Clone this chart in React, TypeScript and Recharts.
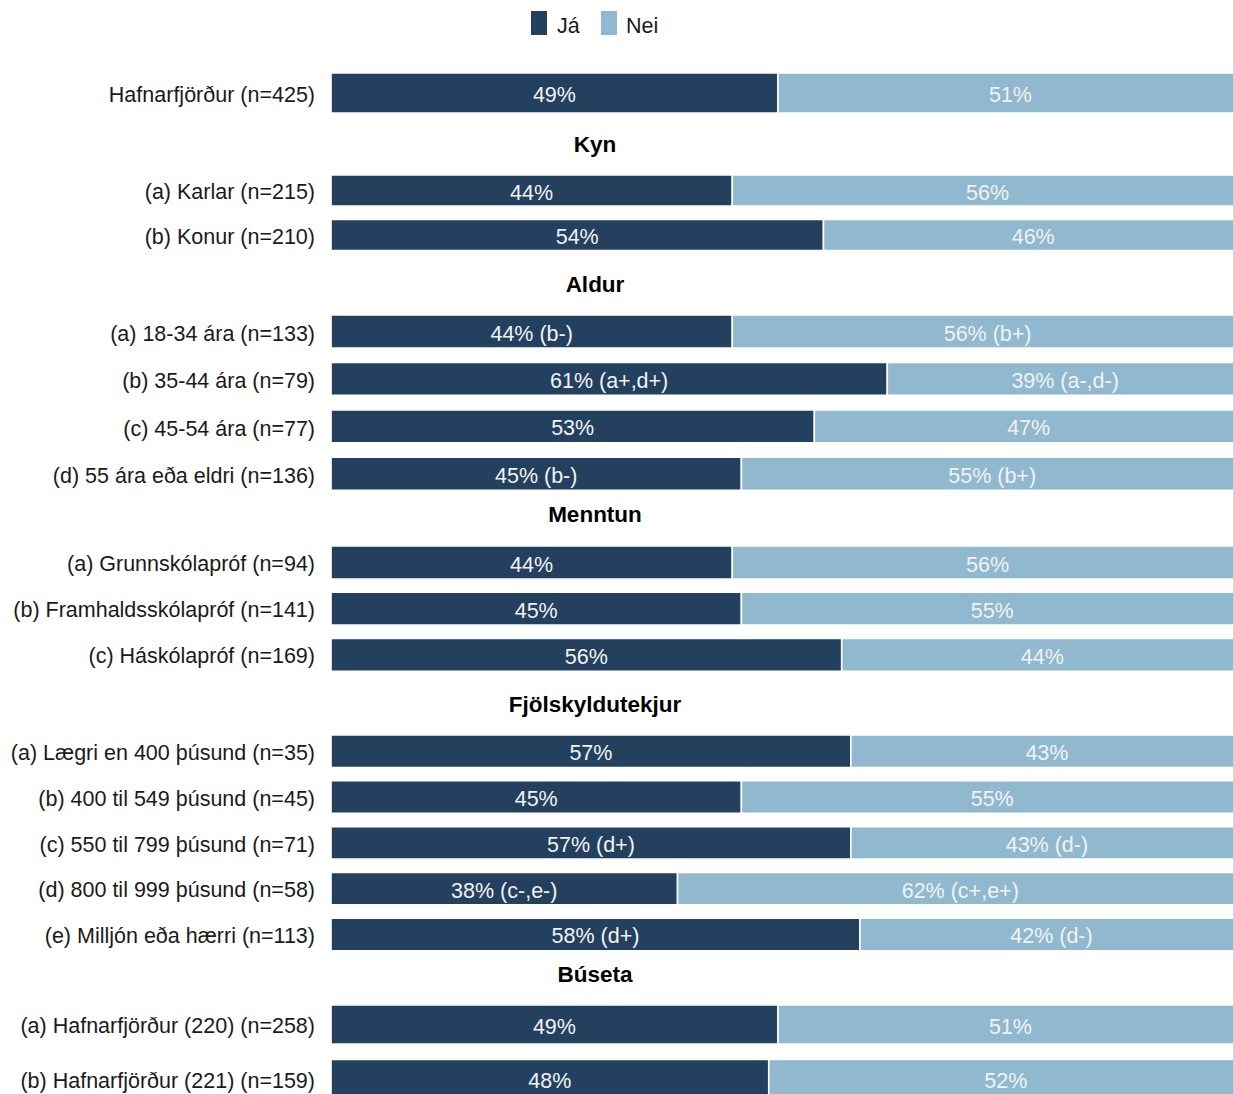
import React from "react";
import { BarChart, Bar, XAxis, YAxis, LabelList } from "recharts";

// ---- Data ----
const overallCats = ["Hafnarfjörður (n=425)"];
const overallJa = [49];
const overallNei = [51];
const overallJaNotes = [""];
const overallNeiNotes = [""];

const kynCats = ["(a) Karlar (n=215)", "(b) Konur (n=210)"];
const kynJa = [44, 54];
const kynNei = [56, 46];
const kynJaNotes = ["", ""];
const kynNeiNotes = ["", ""];

const aldurCats = [
  "(a) 18-34 ára (n=133)",
  "(b) 35-44 ára (n=79)",
  "(c) 45-54 ára (n=77)",
  "(d) 55 ára eða eldri (n=136)",
];
const aldurJa = [44, 61, 53, 45];
const aldurNei = [56, 39, 47, 55];
const aldurJaNotes = ["(b-)", "(a+,d+)", "", "(b-)"];
const aldurNeiNotes = ["(b+)", "(a-,d-)", "", "(b+)"];

const menntunCats = [
  "(a) Grunnskólapróf (n=94)",
  "(b) Framhaldsskólapróf (n=141)",
  "(c) Háskólapróf (n=169)",
];
const menntunJa = [44, 45, 56];
const menntunNei = [56, 55, 44];
const menntunJaNotes = ["", "", ""];
const menntunNeiNotes = ["", "", ""];

const tekjurCats = [
  "(a) Lægri en 400 þúsund (n=35)",
  "(b) 400 til 549 þúsund (n=45)",
  "(c) 550 til 799 þúsund (n=71)",
  "(d) 800 til 999 þúsund (n=58)",
  "(e) Milljón eða hærri (n=113)",
];
const tekjurJa = [57, 45, 57, 38, 58];
const tekjurNei = [43, 55, 43, 62, 42];
const tekjurJaNotes = ["", "", "(d+)", "(c-,e-)", "(d+)"];
const tekjurNeiNotes = ["", "", "(d-)", "(c+,e+)", "(d-)"];

const busetaCats = ["(a) Hafnarfjörður (220) (n=258)", "(b) Hafnarfjörður (221) (n=159)"];
const busetaJa = [49, 48];
const busetaNei = [51, 52];
const busetaJaNotes = ["", ""];
const busetaNeiNotes = ["", ""];

const sectionTitles = ["Kyn", "Aldur", "Menntun", "Fjölskyldutekjur", "Búseta"];
const seriesNames = ["Já", "Nei"];

// ---- Style ----
const FONT = "'Liberation Sans', Arial, Helvetica, sans-serif";
const DARK = "#23415f";
const LIGHT = "#90b9cf";
const CHART_W = 1260;
const FS = 21.5;

const fmt = (v: number, note: string) => (note ? `${v}% ${note}` : `${v}%`);

function CatTick(props: any) {
  const { x, y, payload } = props;
  return (
    <text x={x} y={y} dy="0.42em" textAnchor="end" fill="#1a1a1a" fontSize={FS} fontFamily={FONT}>
      {payload.value}
    </text>
  );
}

function BarText(props: any) {
  const { x, y, width, height, value } = props;
  return (
    <text
      x={Number(x) + Number(width) / 2}
      y={Number(y) + Number(height) / 2}
      dy="0.42em"
      textAnchor="middle"
      fill="#f2f2f2"
      fontSize={FS}
      fontFamily={FONT}
    >
      {value}
    </text>
  );
}

type SectionProps = {
  cats: string[];
  ja: number[];
  nei: number[];
  jaNotes: string[];
  neiNotes: string[];
  top: number;
  height: number;
  barSize: number;
};

function Section({ cats, ja, nei, jaNotes, neiNotes, top, height, barSize }: SectionProps) {
  const data = cats.map((c, i) => ({
    name: c,
    ja: ja[i],
    nei: nei[i],
    jaLabel: fmt(ja[i], jaNotes[i]),
    neiLabel: fmt(nei[i], neiNotes[i]),
  }));
  return (
    <div style={{ position: "absolute", left: 0, top, width: CHART_W, height }}>
      <BarChart
        width={CHART_W}
        height={height}
        data={data}
        layout="vertical"
        margin={{ top: 0, right: 17, bottom: 0, left: 0 }}
        barCategoryGap={0}
      >
        <XAxis type="number" domain={[0, 100]} hide />
        <YAxis
          type="category"
          dataKey="name"
          width={331}
          axisLine={false}
          tickLine={false}
          tickSize={0}
          tickMargin={16}
          interval={0}
          tick={<CatTick />}
        />
        <Bar dataKey="ja" stackId="a" fill={DARK} barSize={barSize} stroke="#ffffff" strokeWidth={1.6} isAnimationActive={false}>
          <LabelList dataKey="jaLabel" content={<BarText />} />
        </Bar>
        <Bar dataKey="nei" stackId="a" fill={LIGHT} barSize={barSize} stroke="#ffffff" strokeWidth={1.6} isAnimationActive={false}>
          <LabelList dataKey="neiLabel" content={<BarText />} />
        </Bar>
      </BarChart>
    </div>
  );
}

export default function App() {
  const titleBaselines = [152, 292, 522, 712, 982];
  return (
    <div
      style={{
        position: "absolute",
        left: 0,
        top: 0,
        width: 1233,
        height: 1094,
        overflow: "hidden",
        background: "#ffffff",
        fontFamily: FONT,
      }}
    >
      <Section cats={overallCats} ja={overallJa} nei={overallNei} jaNotes={overallJaNotes} neiNotes={overallNeiNotes} top={68} height={50} barSize={40} />
      <Section cats={kynCats} ja={kynJa} nei={kynNei} jaNotes={kynJaNotes} neiNotes={kynNeiNotes} top={167.75} height={89} barSize={31} />
      <Section cats={aldurCats} ja={aldurJa} nei={aldurNei} jaNotes={aldurJaNotes} neiNotes={aldurNeiNotes} top={308} height={189.7} barSize={33} />
      <Section cats={menntunCats} ja={menntunJa} nei={menntunNei} jaNotes={menntunJaNotes} neiNotes={menntunNeiNotes} top={538.6} height={138.5} barSize={33} />
      <Section cats={tekjurCats} ja={tekjurJa} nei={tekjurNei} jaNotes={tekjurJaNotes} neiNotes={tekjurNeiNotes} top={728.1} height={229} barSize={32.5} />
      <Section cats={busetaCats} ja={busetaJa} nei={busetaNei} jaNotes={busetaJaNotes} neiNotes={busetaNeiNotes} top={997.25} height={109} barSize={39} />
      <svg width={1233} height={1094} style={{ position: "absolute", left: 0, top: 0, pointerEvents: "none" }}>
        {/* legend */}
        <rect x={531} y={11} width={16} height={24} fill={DARK} />
        <text x={557} y={33} fontSize={FS} fontFamily={FONT} fill="#1a1a1a">{seriesNames[0]}</text>
        <rect x={601} y={11} width={16} height={24} fill={LIGHT} />
        <text x={626} y={33} fontSize={FS} fontFamily={FONT} fill="#1a1a1a">{seriesNames[1]}</text>
        {sectionTitles.map((t, i) => (
          <text key={t} x={595} y={titleBaselines[i]} textAnchor="middle" fontSize={22.5} fontWeight="bold" fontFamily={FONT} fill="#000">
            {t}
          </text>
        ))}
      </svg>
    </div>
  );
}
